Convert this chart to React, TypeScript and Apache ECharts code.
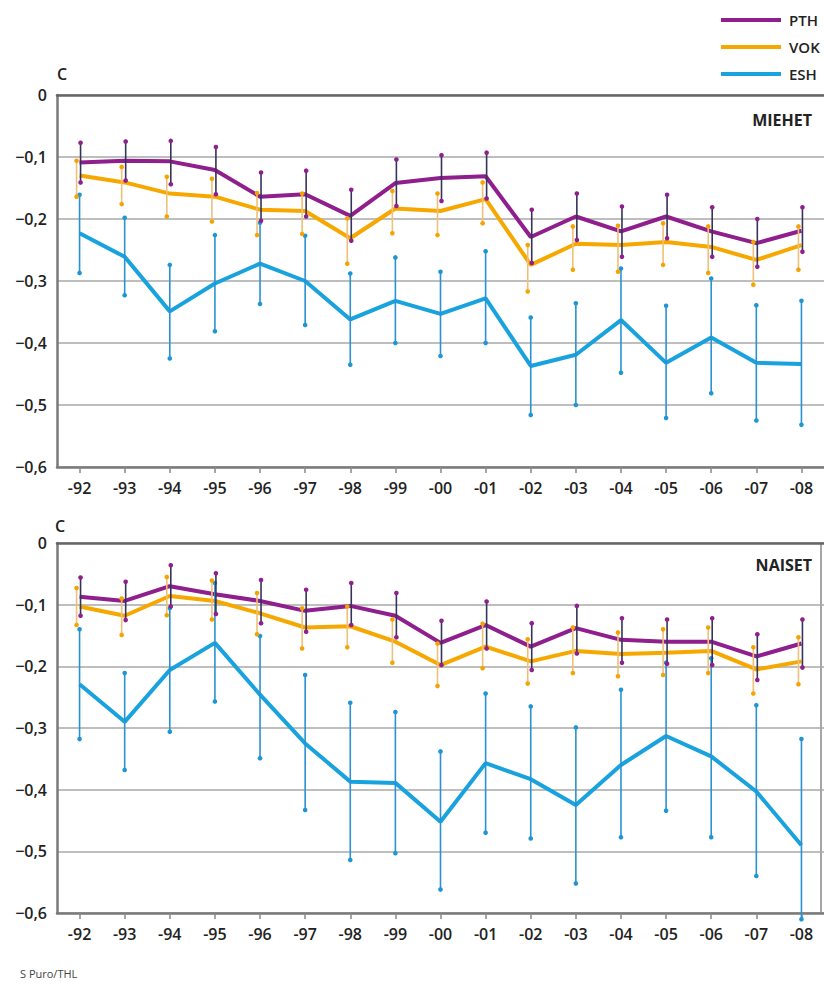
import React, { useEffect, useRef } from "react";
import * as echarts from "echarts";

const categories = ["-92", "-93", "-94", "-95", "-96", "-97", "-98", "-99", "-00", "-01", "-02", "-03", "-04", "-05", "-06", "-07", "-08"];
const seriesNames = ["PTH", "VOK", "ESH"];

// MIEHET (men)
const menPTH = [-0.109, -0.106, -0.107, -0.121, -0.164, -0.160, -0.195, -0.142, -0.134, -0.131, -0.229, -0.196, -0.220, -0.196, -0.220, -0.239, -0.219];
const menPTHLow = [-0.141, -0.138, -0.144, -0.160, -0.203, -0.196, -0.235, -0.179, -0.171, -0.167, -0.271, -0.234, -0.261, -0.231, -0.261, -0.277, -0.253];
const menPTHHigh = [-0.077, -0.075, -0.074, -0.084, -0.125, -0.122, -0.153, -0.104, -0.097, -0.093, -0.185, -0.159, -0.180, -0.161, -0.181, -0.200, -0.181];
const menVOK = [-0.130, -0.141, -0.159, -0.164, -0.185, -0.187, -0.231, -0.183, -0.187, -0.168, -0.274, -0.240, -0.242, -0.237, -0.245, -0.266, -0.242];
const menVOKLow = [-0.164, -0.176, -0.196, -0.204, -0.226, -0.224, -0.272, -0.223, -0.226, -0.207, -0.317, -0.282, -0.285, -0.274, -0.287, -0.306, -0.282];
const menVOKHigh = [-0.106, -0.116, -0.132, -0.135, -0.158, -0.159, -0.199, -0.155, -0.159, -0.141, -0.242, -0.212, -0.211, -0.207, -0.212, -0.237, -0.212];
const menESH = [-0.223, -0.261, -0.349, -0.304, -0.272, -0.300, -0.362, -0.332, -0.353, -0.328, -0.437, -0.419, -0.363, -0.432, -0.391, -0.432, -0.434];
const menESHLow = [-0.287, -0.323, -0.425, -0.381, -0.337, -0.371, -0.435, -0.400, -0.421, -0.400, -0.516, -0.500, -0.448, -0.521, -0.481, -0.525, -0.532];
const menESHHigh = [-0.161, -0.198, -0.274, -0.226, -0.206, -0.227, -0.288, -0.262, -0.285, -0.252, -0.359, -0.336, -0.280, -0.340, -0.296, -0.339, -0.332];

// NAISET (women)
const womenPTH = [-0.087, -0.094, -0.070, -0.083, -0.094, -0.110, -0.102, -0.118, -0.162, -0.133, -0.168, -0.138, -0.157, -0.160, -0.160, -0.184, -0.163];
const womenPTHLow = [-0.118, -0.125, -0.103, -0.115, -0.130, -0.144, -0.133, -0.153, -0.198, -0.171, -0.206, -0.179, -0.194, -0.196, -0.198, -0.222, -0.202];
const womenPTHHigh = [-0.056, -0.063, -0.036, -0.049, -0.060, -0.076, -0.065, -0.081, -0.126, -0.095, -0.130, -0.102, -0.122, -0.124, -0.122, -0.148, -0.124];
const womenVOK = [-0.103, -0.118, -0.086, -0.094, -0.114, -0.137, -0.135, -0.160, -0.198, -0.168, -0.192, -0.175, -0.180, -0.178, -0.175, -0.205, -0.192];
const womenVOKLow = [-0.133, -0.149, -0.117, -0.124, -0.148, -0.171, -0.169, -0.194, -0.232, -0.203, -0.228, -0.211, -0.216, -0.214, -0.211, -0.244, -0.229];
const womenVOKHigh = [-0.073, -0.090, -0.055, -0.061, -0.081, -0.106, -0.103, -0.124, -0.163, -0.131, -0.156, -0.137, -0.145, -0.140, -0.137, -0.169, -0.153];
const womenESH = [-0.229, -0.290, -0.206, -0.162, -0.246, -0.325, -0.387, -0.389, -0.452, -0.357, -0.383, -0.425, -0.360, -0.313, -0.346, -0.403, -0.490];
const womenESHLow = [-0.318, -0.368, -0.306, -0.257, -0.349, -0.433, -0.514, -0.503, -0.562, -0.470, -0.479, -0.552, -0.477, -0.434, -0.477, -0.540, -0.610];
const womenESHHigh = [-0.140, -0.211, -0.106, -0.065, -0.151, -0.214, -0.259, -0.274, -0.338, -0.244, -0.265, -0.299, -0.238, -0.194, -0.187, -0.263, -0.318];

const COLORS = { PTH: "#8e1f8c", VOK: "#f7a800", ESH: "#18a2de" };
const BAR_COLORS = { PTH: "#33335c", VOK: "#efc078", ESH: "#2a92d0" };
const DOT_COLORS = { PTH: "#8e1f8c", VOK: "#f5a300", ESH: "#1e96d6" };
const OFFSETS = { PTH: 1, VOK: -3, ESH: 0 };

const FONT = "'Open Sans', 'Noto Sans', sans-serif";

function fmtY(v: number) {
  if (Math.abs(v) < 1e-9) return "0";
  return "\u2212" + Math.abs(v).toFixed(1).replace(".", ",");
}

function errorSeries(name: string, gi: number, low: number[], high: number[]) {
  const color = BAR_COLORS[name];
  const dot = DOT_COLORS[name];
  const off = OFFSETS[name];
  return {
    type: "custom",
    name: name + "-err",
    xAxisIndex: gi * 2,
    yAxisIndex: gi,
    clip: false,
    z: 5,
    data: low.map((l, i) => [i, l, high[i]]),
    encode: { x: 0, y: [1, 2] },
    renderItem: (params: any, api: any) => {
      const a = api.coord([api.value(0), api.value(1)]);
      const b = api.coord([api.value(0), api.value(2)]);
      const x = a[0] + off;
      return {
        type: "group",
        children: [
          { type: "line", shape: { x1: x, y1: a[1], x2: x, y2: b[1] }, style: { stroke: color, lineWidth: 1.6 } },
          { type: "circle", shape: { cx: x, cy: a[1], r: 2.3 }, style: { fill: dot } },
          { type: "circle", shape: { cx: x, cy: b[1], r: 2.3 }, style: { fill: dot } },
        ],
      };
    },
  };
}

function lineSeries(name: string, gi: number, data: number[]) {
  return {
    type: "line",
    name,
    xAxisIndex: gi * 2,
    yAxisIndex: gi,
    data,
    symbol: "none",
    z: 3,
    lineStyle: { color: COLORS[name], width: 4 },
    itemStyle: { color: COLORS[name] },
  };
}

export default function App() {
  const ref = useRef<HTMLDivElement>(null);
  useEffect(() => {
    if (!ref.current) return;
    const chart = echarts.init(ref.current, null, { renderer: "svg" });
    const grids = [
      { left: 57, top: 95, width: 767, height: 372 },
      { left: 57, top: 543, width: 767, height: 370 },
    ];
    const xAxes: any[] = [];
    const yAxes: any[] = [];
    grids.forEach((g, gi) => {
      xAxes.push({
        type: "category",
        gridIndex: gi,
        data: categories,
        position: "bottom",
        boundaryGap: true,
        axisLine: { show: true, onZero: false, lineStyle: { color: "#7a7a7a", width: 2.5 } },
        axisTick: { show: true, alignWithLabel: true, length: 6, lineStyle: { color: "#888", width: 1.5 } },
        axisLabel: { color: "#222", fontSize: 16, fontWeight: 600, fontFamily: FONT, margin: 13 },
        splitLine: { show: false },
      });
      xAxes.push({
        type: "category",
        gridIndex: gi,
        data: categories,
        position: "top",
        axisLine: { show: true, onZero: false, lineStyle: { color: "#666", width: 2.5 } },
        axisTick: { show: false },
        axisLabel: { show: false },
        splitLine: { show: false },
      });
      yAxes.push({
        type: "value",
        gridIndex: gi,
        min: -0.6,
        max: 0,
        interval: 0.1,
        axisLine: { show: true, lineStyle: { color: "#7a7a7a", width: 2.5 } },
        axisTick: { show: false },
        axisLabel: { color: "#222", fontSize: 16, fontWeight: 600, fontFamily: FONT, margin: 10, formatter: (v: number) => fmtY(v) },
        splitLine: { show: true, lineStyle: { color: "#a8a8a8", width: 1.5 } },
      });
    });

    const option: any = {
      animation: false,
      backgroundColor: "#ffffff",
      grid: grids,
      xAxis: xAxes,
      yAxis: yAxes,
      legend: {
        data: seriesNames,
        orient: "vertical",
        left: 716,
        top: 5,
        icon: "rect",
        itemWidth: 60,
        itemHeight: 4,
        itemGap: 7,
        selectedMode: false,
        textStyle: { color: "#222", fontSize: 15, fontWeight: 600, fontFamily: FONT, lineHeight: 20, padding: [0, 0, 0, 3] },
      },
      graphic: [
        { type: "text", left: 57, top: 66, style: { text: "C", fontSize: 16, fontWeight: 600, fontFamily: FONT, fill: "#222" } },
        { type: "text", left: 55, top: 518, style: { text: "C", fontSize: 16, fontWeight: 600, fontFamily: FONT, fill: "#222" } },
        { type: "text", right: 12, top: 112, style: { text: "MIEHET", fontSize: 16, fontWeight: 700, fontFamily: FONT, fill: "#222" } },
        { type: "text", right: 12, top: 557, style: { text: "NAISET", fontSize: 16, fontWeight: 700, fontFamily: FONT, fill: "#222" } },
        { type: "line", shape: { x1: 821, y1: 543, x2: 821, y2: 913 }, style: { stroke: "#888", lineWidth: 1.5 } },
        { type: "text", left: 20, top: 968, style: { text: "S Puro/THL", fontSize: 11, fontFamily: FONT, fill: "#444" } },
      ],
      series: [
        lineSeries("ESH", 0, menESH),
        lineSeries("VOK", 0, menVOK),
        lineSeries("PTH", 0, menPTH),
        errorSeries("ESH", 0, menESHLow, menESHHigh),
        errorSeries("VOK", 0, menVOKLow, menVOKHigh),
        errorSeries("PTH", 0, menPTHLow, menPTHHigh),
        lineSeries("ESH", 1, womenESH),
        lineSeries("VOK", 1, womenVOK),
        lineSeries("PTH", 1, womenPTH),
        errorSeries("ESH", 1, womenESHLow, womenESHHigh),
        errorSeries("VOK", 1, womenVOKLow, womenVOKHigh),
        errorSeries("PTH", 1, womenPTHLow, womenPTHHigh),
      ],
    };
    chart.setOption(option);
    return () => chart.dispose();
  }, []);
  return (
    <div
      ref={ref}
      style={{ position: "absolute", left: 0, top: 0, width: 824, height: 985, background: "#fff" }}
    />
  );
}
